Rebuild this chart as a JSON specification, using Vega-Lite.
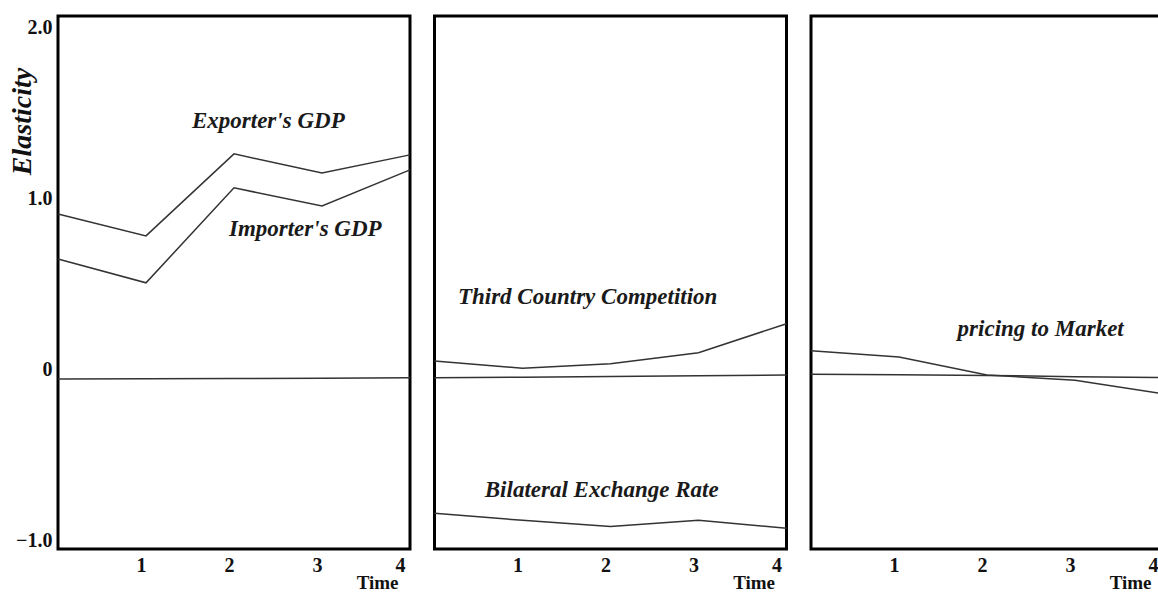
{
  "$schema": "https://vega.github.io/schema/vega-lite/v6.json",
  "autosize": {"type": "pad"},
  "padding": {"left": 6, "top": 14, "right": 0, "bottom": 0},
  "background": "white",
  "spacing": 24.5,
  "bounds": "flush",
  "config": {
    "font": "Liberation Serif",
    "view": {"stroke": "black", "strokeWidth": 3},
    "axis": {"grid": false, "ticks": false, "tickSize": 0, "domain": false, "labelColor": "#111", "titleColor": "#111"}
  },
  "datasets": {
    "lines": [
      {"panel": "A", "series": "Exporter's GDP", "time": 0, "value": 0.961},
      {"panel": "A", "series": "Exporter's GDP", "time": 1, "value": 0.833},
      {"panel": "A", "series": "Exporter's GDP", "time": 2, "value": 1.313},
      {"panel": "A", "series": "Exporter's GDP", "time": 3, "value": 1.201},
      {"panel": "A", "series": "Exporter's GDP", "time": 4, "value": 1.307},
      {"panel": "A", "series": "Importer's GDP", "time": 0, "value": 0.698},
      {"panel": "A", "series": "Importer's GDP", "time": 1, "value": 0.558},
      {"panel": "A", "series": "Importer's GDP", "time": 2, "value": 1.114},
      {"panel": "A", "series": "Importer's GDP", "time": 3, "value": 1.008},
      {"panel": "A", "series": "Importer's GDP", "time": 4, "value": 1.219},
      {"panel": "A", "series": "Zero", "time": 0, "value": -0.005},
      {"panel": "A", "series": "Zero", "time": 1, "value": -0.004},
      {"panel": "A", "series": "Zero", "time": 2, "value": -0.002},
      {"panel": "A", "series": "Zero", "time": 3, "value": 0.0},
      {"panel": "A", "series": "Zero", "time": 4, "value": 0.002},
      {"panel": "B", "series": "Third Country Competition", "time": 0, "value": 0.101},
      {"panel": "B", "series": "Third Country Competition", "time": 1, "value": 0.058},
      {"panel": "B", "series": "Third Country Competition", "time": 2, "value": 0.085},
      {"panel": "B", "series": "Third Country Competition", "time": 3, "value": 0.149},
      {"panel": "B", "series": "Third Country Competition", "time": 4, "value": 0.319},
      {"panel": "B", "series": "Zero", "time": 0, "value": 0.003},
      {"panel": "B", "series": "Zero", "time": 1, "value": 0.006},
      {"panel": "B", "series": "Zero", "time": 2, "value": 0.01},
      {"panel": "B", "series": "Zero", "time": 3, "value": 0.014},
      {"panel": "B", "series": "Zero", "time": 4, "value": 0.018},
      {"panel": "B", "series": "Bilateral Exchange Rate", "time": 0, "value": -0.791},
      {"panel": "B", "series": "Bilateral Exchange Rate", "time": 1, "value": -0.832},
      {"panel": "B", "series": "Bilateral Exchange Rate", "time": 2, "value": -0.869},
      {"panel": "B", "series": "Bilateral Exchange Rate", "time": 3, "value": -0.832},
      {"panel": "B", "series": "Bilateral Exchange Rate", "time": 4, "value": -0.879},
      {"panel": "C", "series": "pricing to Market", "time": 0, "value": 0.16},
      {"panel": "C", "series": "pricing to Market", "time": 1, "value": 0.124},
      {"panel": "C", "series": "pricing to Market", "time": 2, "value": 0.019},
      {"panel": "C", "series": "pricing to Market", "time": 3, "value": -0.012},
      {"panel": "C", "series": "pricing to Market", "time": 4, "value": -0.091},
      {"panel": "C", "series": "Zero", "time": 0, "value": 0.023},
      {"panel": "C", "series": "Zero", "time": 1, "value": 0.02},
      {"panel": "C", "series": "Zero", "time": 2, "value": 0.016},
      {"panel": "C", "series": "Zero", "time": 3, "value": 0.009},
      {"panel": "C", "series": "Zero", "time": 4, "value": 0.003}
    ],
    "labels": [
      {"panel": "A", "label": "Exporter's GDP", "time": 2.39, "value": 1.506},
      {"panel": "A", "label": "Importer's GDP", "time": 2.81, "value": 0.874},
      {"panel": "B", "label": "Third Country Competition", "time": 1.74, "value": 0.475},
      {"panel": "B", "label": "Bilateral Exchange Rate", "time": 1.9, "value": -0.655},
      {"panel": "C", "label": "pricing to Market", "time": 2.61, "value": 0.288}
    ]
  },
  "hconcat": [
    {
      "width": 352, "height": 533,
      "layer": [
        {
          "data": {"name": "lines"},
          "transform": [{"filter": "datum.panel === 'A'"}],
          "mark": {"type": "line", "stroke": "#333", "strokeWidth": 1.5},
          "encoding": {
            "x": {"field": "time", "type": "quantitative", "scale": {"domain": [0, 4], "nice": false, "zero": false},
                  "axis": {"values": [1, 2, 3, 4], "format": "d", "labelFontSize": 20, "labelFontWeight": "bold", "labelPadding": 6, "labelOffset": -5,
                           "title": "Time", "titleFontSize": 19, "titleFontWeight": "bold", "titleX": 340, "titleY": 39, "titleAlign": "right", "titleBaseline": "alphabetic"}},
            "y": {"field": "value", "type": "quantitative", "scale": {"domain": [-1, 2.12], "nice": false, "zero": false},
                  "axis": {"values": [-1, 0, 1, 2], "labelExpr": "datum.value == 0 ? '0' : format(datum.value, '.1f')", "labelFontSize": 20, "labelFontWeight": "bold", "labelPadding": 6, "labelOffset": -9,
                           "title": "Elasticity", "titleFontSize": 28, "titleFontWeight": "bold", "titleFontStyle": "italic", "titleX": -36, "titleY": 105, "titleAlign": "center", "titleBaseline": "middle", "titleAngle": -90}},
            "detail": {"field": "series", "type": "nominal"}
          }
        },
        {
          "data": {"name": "labels"},
          "transform": [{"filter": "datum.panel === 'A'"}],
          "mark": {"type": "text", "fontSize": 23, "fontWeight": "bold", "fontStyle": "italic", "color": "#1a1a1a", "align": "center", "baseline": "middle"},
          "encoding": {
            "x": {"field": "time", "type": "quantitative"},
            "y": {"field": "value", "type": "quantitative"},
            "text": {"field": "label", "type": "nominal"}
          }
        }
      ]
    },
    {
      "width": 352, "height": 533,
      "layer": [
        {
          "data": {"name": "lines"},
          "transform": [{"filter": "datum.panel === 'B'"}],
          "mark": {"type": "line", "stroke": "#333", "strokeWidth": 1.5},
          "encoding": {
            "x": {"field": "time", "type": "quantitative", "scale": {"domain": [0, 4], "nice": false, "zero": false},
                  "axis": {"values": [1, 2, 3, 4], "format": "d", "labelFontSize": 20, "labelFontWeight": "bold", "labelPadding": 6, "labelOffset": -5,
                           "title": "Time", "titleFontSize": 19, "titleFontWeight": "bold", "titleX": 340, "titleY": 39, "titleAlign": "right", "titleBaseline": "alphabetic"}},
            "y": {"field": "value", "type": "quantitative", "scale": {"domain": [-1, 2.12], "nice": false, "zero": false}, "axis": null},
            "detail": {"field": "series", "type": "nominal"}
          }
        },
        {
          "data": {"name": "labels"},
          "transform": [{"filter": "datum.panel === 'B'"}],
          "mark": {"type": "text", "fontSize": 23, "fontWeight": "bold", "fontStyle": "italic", "color": "#1a1a1a", "align": "center", "baseline": "middle"},
          "encoding": {
            "x": {"field": "time", "type": "quantitative"},
            "y": {"field": "value", "type": "quantitative"},
            "text": {"field": "label", "type": "nominal"}
          }
        }
      ]
    },
    {
      "width": 352, "height": 533,
      "layer": [
        {
          "data": {"name": "lines"},
          "transform": [{"filter": "datum.panel === 'C'"}],
          "mark": {"type": "line", "stroke": "#333", "strokeWidth": 1.5},
          "encoding": {
            "x": {"field": "time", "type": "quantitative", "scale": {"domain": [0, 4], "nice": false, "zero": false},
                  "axis": {"values": [1, 2, 3, 4], "format": "d", "labelFontSize": 20, "labelFontWeight": "bold", "labelPadding": 6, "labelOffset": -5,
                           "title": "Time", "titleFontSize": 19, "titleFontWeight": "bold", "titleX": 340, "titleY": 39, "titleAlign": "right", "titleBaseline": "alphabetic"}},
            "y": {"field": "value", "type": "quantitative", "scale": {"domain": [-1, 2.12], "nice": false, "zero": false}, "axis": null},
            "detail": {"field": "series", "type": "nominal"}
          }
        },
        {
          "data": {"name": "labels"},
          "transform": [{"filter": "datum.panel === 'C'"}],
          "mark": {"type": "text", "fontSize": 23, "fontWeight": "bold", "fontStyle": "italic", "color": "#1a1a1a", "align": "center", "baseline": "middle"},
          "encoding": {
            "x": {"field": "time", "type": "quantitative"},
            "y": {"field": "value", "type": "quantitative"},
            "text": {"field": "label", "type": "nominal"}
          }
        }
      ]
    }
  ]
}
